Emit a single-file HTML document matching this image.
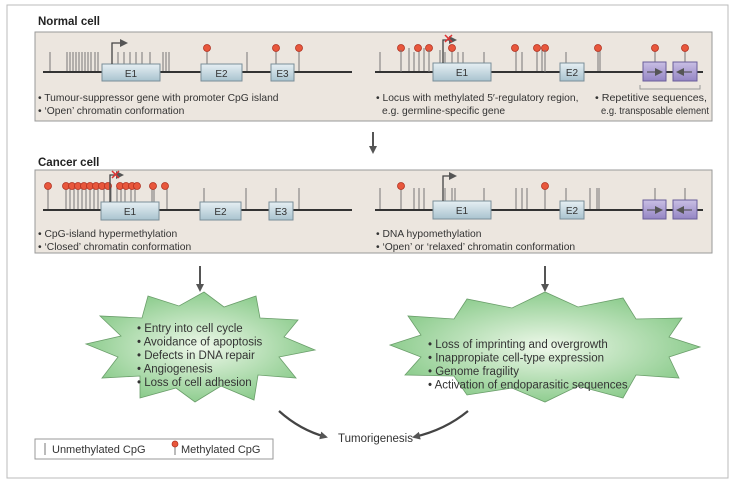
<!DOCTYPE html>
<html><head><meta charset="utf-8"><style>
body{margin:0;background:#fff}
svg{display:block;font-family:"Liberation Sans",sans-serif}
</style></head><body>
<svg width="736" height="485" viewBox="0 0 736 485" xmlns="http://www.w3.org/2000/svg">
<defs>
<linearGradient id="ex" x1="0" y1="0" x2="0" y2="1"><stop offset="0" stop-color="#e6eff3"/><stop offset="1" stop-color="#a9c3cf"/></linearGradient>
<linearGradient id="tp" x1="0" y1="0" x2="0" y2="1"><stop offset="0" stop-color="#c9bfe4"/><stop offset="1" stop-color="#9485c4"/></linearGradient>
<radialGradient id="gr" cx="0.5" cy="0.5" r="0.55"><stop offset="0" stop-color="#eef8ea"/><stop offset="1" stop-color="#86c987"/></radialGradient>
<marker id="ah" markerWidth="8" markerHeight="8" refX="6" refY="4" orient="auto" markerUnits="userSpaceOnUse"><path d="M0,0 L8,4 L0,8 z" fill="#555"/></marker>
</defs>
<rect x="7" y="5" width="721" height="473" fill="none" stroke="#bbb"/>
<text x="38" y="25" font-size="11.5" font-weight="bold" fill="#222">Normal cell</text>
<rect x="35" y="32" width="677" height="89" fill="#ece6df" stroke="#999"/>
<g stroke="#777" stroke-width="1">
<path d="M50 72V52M67 72V52M70 72V52M73 72V52M76 72V52M79 72V52M82 72V52M85 72V52M88 72V52M91 72V52M95 72V52M98 72V52M118 64V52M124 64V52M130 64V52M136 64V52M142 64V52M150 64V52M163 72V52M166 72V52M169 72V52M247 72V52"/>
<path d="M380 72V52M409 72V48M414 72V52M419 72V48M424 72V48M440 64V50M445 64V52M452 64V48M458 64V52M463 64V52M484 64V52M516 72V48M522 72V52M537 72V48M542 72V48M566 64V52M598 72V50M600 72V48M655 63V48M685 63V48"/>
<path d="M207 64V50M276 64V50M299 72V50"/>
</g>
<path d="M43 72H352M375 72H703" stroke="#333" stroke-width="2"/>
<g fill="url(#ex)" stroke="#7a8f99"><rect x="102" y="64" width="58" height="17"/><rect x="201" y="64" width="41" height="17"/><rect x="271" y="64" width="23" height="17"/><rect x="433" y="63" width="58" height="18"/><rect x="560" y="63" width="24" height="18"/></g>
<g font-size="10" fill="#333" text-anchor="middle"><text x="131" y="77">E1</text><text x="221.5" y="77">E2</text><text x="282.5" y="77">E3</text><text x="462" y="76">E1</text><text x="572" y="76">E2</text></g>
<g fill="url(#tp)" stroke="#6a5e9a"><rect x="643" y="62" width="23" height="19"/><rect x="673" y="62" width="24" height="19"/></g>
<path d="M647 72h14" stroke="#444" marker-end="url(#ah)"/><path d="M692 72h-14" stroke="#444" marker-end="url(#ah)"/>
<path d="M640 85v4h60v-4" stroke="#999" fill="none"/>
<g fill="#e8573c" stroke="#b03020" stroke-width="0.8">
<circle cx="207" cy="48" r="3.5"/><circle cx="276" cy="48" r="3.5"/><circle cx="299" cy="48" r="3.5"/>
<circle cx="401" cy="48" r="3.5"/><circle cx="418" cy="48" r="3.5"/><circle cx="429" cy="48" r="3.5"/><circle cx="452" cy="48" r="3.5"/><circle cx="515" cy="48" r="3.5"/><circle cx="537" cy="48" r="3.5"/><circle cx="545" cy="48" r="3.5"/><circle cx="598" cy="48" r="3.5"/><circle cx="655" cy="48" r="3.5"/><circle cx="685" cy="48" r="3.5"/>
</g>
<g stroke="#777"><path d="M401 72V50M429 72V50M545 72V50"/></g>
<path d="M112 64V43H126" stroke="#444" stroke-width="1.3" fill="none" marker-end="url(#ah)"/>
<path d="M443 63V40H455" stroke="#444" stroke-width="1.3" fill="none" marker-end="url(#ah)"/>
<path d="M445 35l7 7M452 35l-7 7" stroke="#d33" stroke-width="1.5"/>
<g font-size="10.3" fill="#333">
<text x="38" y="101">• Tumour-suppressor gene with promoter CpG island</text>
<text x="38" y="114">• ‘Open’ chromatin conformation</text>
<text x="376" y="101">• Locus with methylated 5′-regulatory region,</text>
<text x="382" y="114">e.g. germline-specific gene</text>
<text x="595" y="101" textLength="112" lengthAdjust="spacingAndGlyphs">• Repetitive sequences,</text>
<text x="601" y="114" textLength="108" lengthAdjust="spacingAndGlyphs">e.g. transposable element</text>
</g>
<path d="M373 132V152" stroke="#555" stroke-width="2" marker-end="url(#ah)"/>
<text x="38" y="166" font-size="11.5" font-weight="bold" fill="#222">Cancer cell</text>
<rect x="35" y="170" width="677" height="83" fill="#ece6df" stroke="#999"/>
<g stroke="#777">
<path d="M48 210V188M66 210V188M70 210V188M74 210V188M78 210V188M82 210V188M86 210V188M90 210V188M94 210V188M98 210V188M104 202V188M111 202V188M117 202V188M121 202V188M125 202V188M131 202V188M135 202V188M152 202V186M154 202V188M167 210V188M204 202V188M246 210V188M276 202V188M299 210V188"/>
<path d="M380 210V188M401 210V188M414 210V188M419 210V188M424 210V188M445 202V188M452 202V188M455 202V188M484 202V188M516 210V188M522 210V188M527 210V188M545 210V188M566 202V188M590 210V188M597 210V188M599 210V188M655 202V188M685 202V188"/>
</g>
<g fill="#e8573c" stroke="#b03020" stroke-width="0.8">
<circle cx="48" cy="186" r="3.5"/><circle cx="66" cy="186" r="3.5"/><circle cx="72" cy="186" r="3.5"/><circle cx="78" cy="186" r="3.5"/><circle cx="84" cy="186" r="3.5"/><circle cx="90" cy="186" r="3.5"/><circle cx="96" cy="186" r="3.5"/><circle cx="102" cy="186" r="3.5"/><circle cx="108" cy="186" r="3.5"/><circle cx="120" cy="186" r="3.5"/><circle cx="126" cy="186" r="3.5"/><circle cx="132" cy="186" r="3.5"/><circle cx="137" cy="186" r="3.5"/><circle cx="153" cy="186" r="3.5"/><circle cx="165" cy="186" r="3.5"/>
<circle cx="401" cy="186" r="3.5"/><circle cx="545" cy="186" r="3.5"/>
</g>
<path d="M43 210H352M375 210H703" stroke="#333" stroke-width="2"/>
<g fill="url(#ex)" stroke="#7a8f99"><rect x="101" y="202" width="58" height="18"/><rect x="200" y="202" width="41" height="18"/><rect x="269" y="202" width="24" height="18"/><rect x="433" y="201" width="58" height="18"/><rect x="560" y="201" width="24" height="18"/></g>
<g font-size="10" fill="#333" text-anchor="middle"><text x="130" y="215">E1</text><text x="220.5" y="215">E2</text><text x="281" y="215">E3</text><text x="462" y="214">E1</text><text x="572" y="214">E2</text></g>
<g fill="url(#tp)" stroke="#6a5e9a"><rect x="643" y="200" width="23" height="19"/><rect x="673" y="200" width="24" height="19"/></g>
<path d="M647 210h14" stroke="#444" marker-end="url(#ah)"/><path d="M692 210h-14" stroke="#444" marker-end="url(#ah)"/>
<path d="M110 202V175H122" stroke="#444" stroke-width="1.3" fill="none" marker-end="url(#ah)"/>
<path d="M112 171l7 7M119 171l-7 7" stroke="#d33" stroke-width="1.5"/>
<path d="M443 201V176H455" stroke="#444" stroke-width="1.3" fill="none" marker-end="url(#ah)"/>
<g font-size="10.3" fill="#333">
<text x="38" y="237">• CpG-island hypermethylation</text>
<text x="38" y="250">• ‘Closed’ chromatin conformation</text>
<text x="376" y="237">• DNA hypomethylation</text>
<text x="376" y="250">• ‘Open’ or ‘relaxed’ chromatin conformation</text>
</g>
<path d="M200 266V290" stroke="#555" stroke-width="2" marker-end="url(#ah)"/>
<path d="M545 266V290" stroke="#555" stroke-width="2" marker-end="url(#ah)"/>
<polygon fill="url(#gr)" stroke="#6a9e6a" stroke-width="0.8" points="315,350 279,357 296,378 258,375 254,400 221,386 195,402 176,388 140,398 140,376 102,378 118,357 86,344 121,336 100,316 142,318 148,296 179,306 204,292 224,307 256,296 260,318 298,320 284,337"/>
<polygon fill="url(#gr)" stroke="#6a9e6a" stroke-width="0.8" points="700,347 669,357 679,378 636,375 623,398 578,386 545,402 512,388 467,395 454,376 405,375 421,357 390,345 421,335 408,316 454,319 467,299 512,308 545,292 578,307 623,298 636,319 682,318 669,337"/>
<g font-size="11.5" fill="#333">
<text x="137" y="332">• Entry into cell cycle</text>
<text x="137" y="345.5">• Avoidance of apoptosis</text>
<text x="137" y="359">• Defects in DNA repair</text>
<text x="137" y="372.5">• Angiogenesis</text>
<text x="137" y="386">• Loss of cell adhesion</text>
<text x="428" y="348">• Loss of imprinting and overgrowth</text>
<text x="428" y="361.5">• Inappropiate cell-type expression</text>
<text x="428" y="375">• Genome fragility</text>
<text x="428" y="388.5">• Activation of endoparasitic sequences</text>
</g>
<path d="M279 411Q300 430 326 437" stroke="#444" stroke-width="2.2" fill="none" marker-end="url(#ah)"/>
<path d="M468 411Q445 430 414 437" stroke="#444" stroke-width="2.2" fill="none" marker-end="url(#ah)"/>
<text x="338" y="442" font-size="11.5" fill="#333">Tumorigenesis</text>
<rect x="35" y="439" width="238" height="20" fill="#fff" stroke="#999"/>
<path d="M45 443V455" stroke="#777"/>
<text x="52" y="453" font-size="11" fill="#333">Unmethylated CpG</text>
<path d="M175 445V455" stroke="#777"/><circle cx="175" cy="444" r="3" fill="#e8573c" stroke="#b03020" stroke-width="0.7"/>
<text x="181" y="453" font-size="11" fill="#333">Methylated CpG</text>
</svg>
</body></html>
